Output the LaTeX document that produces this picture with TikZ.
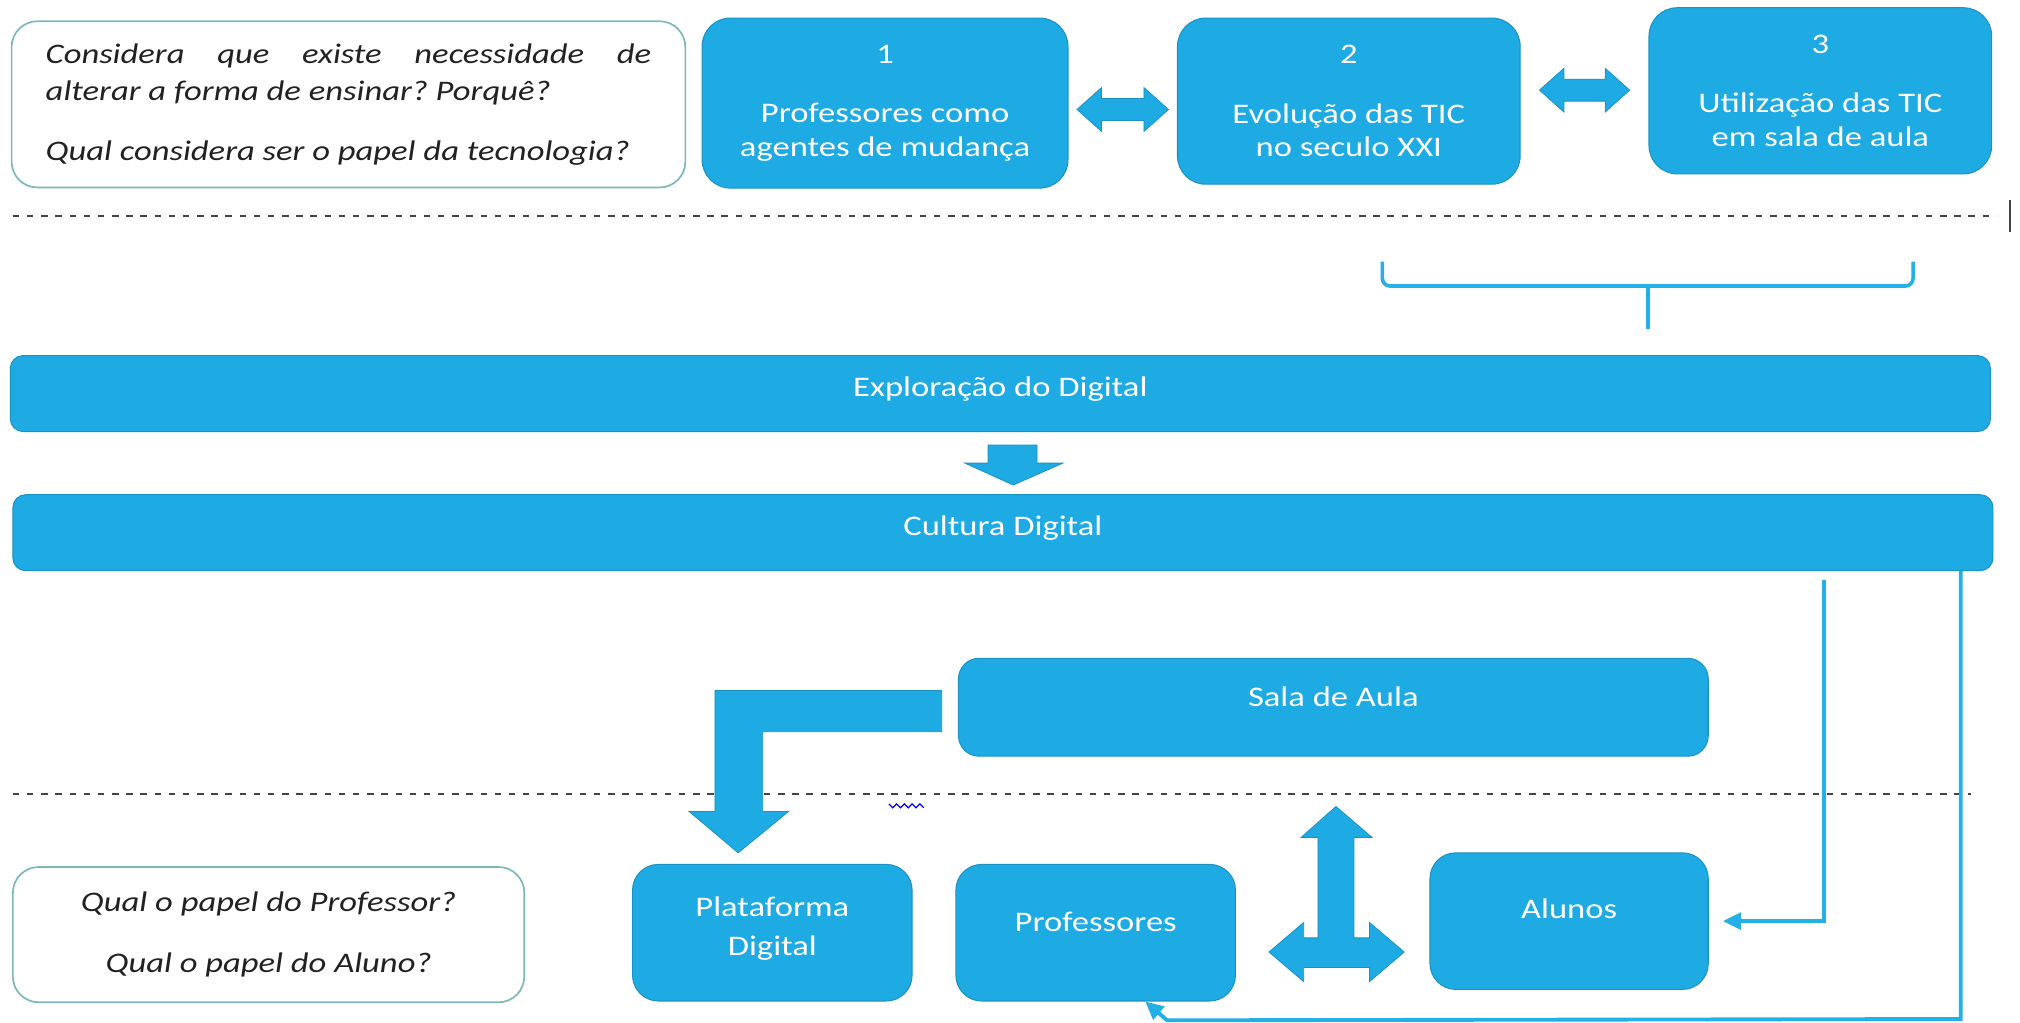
\documentclass[tikz,border=0pt]{standalone}
\usepackage{fontspec}
\setmainfont{Carlito}[FakeStretch=1.22]
\usetikzlibrary{arrows.meta}
\definecolor{bfill}{HTML}{1EAAE2}
\definecolor{bdraw}{HTML}{1A93C4}
\definecolor{qdraw}{HTML}{7DB8B8}
\definecolor{lcol}{HTML}{22B0E6}
\definecolor{dgray}{HTML}{444444}
\definecolor{qtext}{HTML}{222222}
\frenchspacing
\begin{document}
\begin{tikzpicture}[x=1pt,y=-1pt,
  bbox/.style={draw=bdraw, line width=0.8pt, fill=bfill, text=white, rounded corners=#1, inner sep=0pt, align=center, font=\fontsize{22}{26}\selectfont},
  bbox/.default=20pt,
  qbox/.style={draw=qdraw, line width=1.3pt, fill=white, text=qtext, rounded corners=20pt, inner sep=0pt},
  barrow/.style={draw=bdraw, line width=0.6pt, fill=bfill},
  conn/.style={draw=lcol, line width=3pt},
  sepline/.style={draw=dgray, line width=1.5pt, dash pattern=on 5pt off 6pt},
  tipA/.style={-{Triangle[length=14pt,width=13pt]}},
]
\useasboundingbox (0,0) rectangle (1568,794);

% separators
\draw[sepline] (10,168) -- (1550,168);
\draw[dgray, line width=1.5pt] (1560,155) -- (1560,180);
\draw[sepline] (10,616) -- (1530,616);

% top row
\node[qbox, minimum width=523pt, minimum height=129pt, align=left,
      font=\itshape\fontsize{22}{29}\selectfont] (q1) at (270.5,81)
  {\makebox[470pt][s]{Considera que existe necessidade de}\\alterar a forma de ensinar? Porquê?\\[17pt]Qual considera ser o papel da tecnologia?};
\node[bbox=22pt, minimum width=284pt, minimum height=132pt] (t1) at (687,80)
  {1\\[20pt]Professores como\\agentes de mudança};
\node[bbox=22pt, minimum width=266pt, minimum height=129pt] (t2) at (1047,78.5)
  {2\\[20pt]Evolução das TIC\\no seculo XXI};
\node[bbox=22pt, minimum width=266pt, minimum height=129pt] (t3) at (1413,70.5)
  {3\\[20pt]Utilização das TIC\\em sala de aula};

% double arrows top
\path[barrow] (836,85) -- (855,68) -- (855,76.5) -- (888,76.5) -- (888,68) -- (907,85)
  -- (888,102) -- (888,93.5) -- (855,93.5) -- (855,102) -- cycle;
\path[barrow] (1195,70) -- (1214,53) -- (1214,61.5) -- (1246,61.5) -- (1246,53) -- (1265,70)
  -- (1246,87) -- (1246,78.5) -- (1214,78.5) -- (1214,87) -- cycle;

% brace
\draw[lcol, line width=2.8pt, rounded corners=6pt] (1073,203) -- (1073,222) -- (1485,222) -- (1485,203);
\draw[lcol, line width=2.8pt] (1279,222) -- (1279,255);

% bars
\node[bbox=10pt, minimum width=1537pt, minimum height=59pt] (expl) at (776.5,305.5)
  {\raisebox{11pt}{Exploração do Digital}};
\node[bbox=10pt, minimum width=1537pt, minimum height=59pt] (cult) at (778.5,413.5)
  {\raisebox{11pt}{Cultura Digital}};
\path[barrow] (767,345.5) -- (805,345.5) -- (805,359.5) -- (825,359.5) -- (786.5,376.5)
  -- (749,359.5) -- (767,359.5) -- cycle;

% middle
\node[bbox=16pt, minimum width=582pt, minimum height=76pt] (sala) at (1035,549)
  {\raisebox{17pt}{Sala de Aula}};
\path[barrow] (731,536) -- (555,536) -- (555,630) -- (535,630) -- (573,662) -- (612,630)
  -- (592,630) -- (592,568) -- (731,568) -- cycle;

% bottom row
\node[qbox, minimum width=397pt, minimum height=105pt, align=center,
      font=\itshape\fontsize{22}{26}\selectfont] (q2) at (208.5,725.5)
  {Qual o papel do Professor?\\[21pt]Qual o papel do Aluno?};
\node[bbox=20pt, minimum width=217pt, minimum height=106pt] (plat) at (599.5,724)
  {\raisebox{28pt}{\begin{tabular}{@{}c@{}}Plataforma\\[4pt]Digital\end{tabular}}};
\node[bbox=20pt, minimum width=217pt, minimum height=106pt] (prof) at (850.5,724)
  {\raisebox{17pt}{Professores}};
\node[bbox=20pt, minimum width=216pt, minimum height=106pt] (alunos) at (1218,715)
  {\raisebox{19pt}{Alunos}};

% three-way arrow
\path[barrow] (1037,626) -- (1065,650) -- (1051,650) -- (1051,728) -- (1063,728) -- (1063,716)
  -- (1090,739) -- (1063,762) -- (1063,751) -- (1012,751) -- (1012,762) -- (985,739)
  -- (1012,716) -- (1012,728) -- (1023,728) -- (1023,650) -- (1010,650) -- cycle;

% spell-check squiggle
\draw[blue, line width=1pt] (690,624) -- (693,627) -- (696,624) -- (699,627) -- (702,624)
  -- (705,627) -- (708,624) -- (711,627) -- (714,624) -- (717,627);

% connectors
\coordinate (x1) at (1416,0);
\coordinate (x2) at (1522,0);
\coordinate (x3) at (889,0);
\coordinate (bl) at (1522,791);
\coordinate (br) at (906,792);
\draw[conn, tipA, shorten <=7pt, shorten >=11pt] (cult.south -| x1) |- (alunos.east);
\draw[conn, tipA] (cult.south -| x2) -- (bl) -- (br) -- (prof.south -| x3);
\end{tikzpicture}
\end{document}
